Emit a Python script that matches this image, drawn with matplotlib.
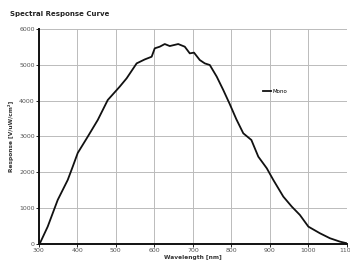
import numpy as np
import matplotlib.pyplot as plt

# Spectral response
wavelength = [302, 323, 349, 375, 388, 401, 427, 453, 479, 510, 528, 554, 575,
              593, 601, 614, 627, 640, 662, 679, 692, 703, 718, 731, 744, 762,
              779, 796, 813, 831, 852, 870, 892, 909, 935, 957, 978, 1000, 1030,
              1056, 1082, 1099]
response = [0, 483, 1228, 1786, 2157, 2539, 2994, 3460, 4018, 4390, 4623, 5040,
            5150, 5226, 5460, 5506, 5580, 5524, 5580, 5506, 5320, 5340, 5134,
            5040, 4995, 4670, 4297, 3900, 3480, 3088, 2902, 2436, 2112, 1786,
            1320, 1041, 809, 483, 298, 159, 64, 20]

xticks = [300, 400, 500, 600, 700, 800, 900, 1000, 1100]
yticks = [0, 1000, 2000, 3000, 4000, 5000, 6000]

fig = plt.figure(figsize=(3.5, 2.66), dpi=100)
ax = fig.add_axes([0.111, 0.083, 0.88, 0.808])

ax.plot(wavelength, response, color='#111111', lw=1.3, label='Mono')
ax.set_xlim(300, 1100)
ax.set_ylim(0, 6000)
ax.set_xticks(xticks)
ax.set_yticks(yticks)
ax.grid(True, color='#bbbbbb', lw=0.7)

for s in ['top', 'right']:
    ax.spines[s].set_visible(False)
for s in ['left', 'bottom']:
    ax.spines[s].set_linewidth(1.4)
    ax.spines[s].set_color('#111111')
ax.tick_params(labelsize=4.5, labelcolor='#555555', length=2, width=0.6, pad=1)

ax.set_xlabel('Wavelength [nm]', fontsize=4.2, fontweight='bold', labelpad=1.5, color='#333333')
ax.set_ylabel('Response [V/uW/cm²]', fontsize=4.2, fontweight='bold', labelpad=4, color='#333333')

ax.legend(loc='center left', bbox_to_anchor=(0.72, 0.71), fontsize=4, frameon=False,
          handlelength=1.5, handletextpad=0.2, borderaxespad=0)

fig.text(0.03, 0.94, 'Spectral Response Curve', fontsize=5, fontweight='bold', color='#222222')

fig.savefig('out.png', dpi=100)
